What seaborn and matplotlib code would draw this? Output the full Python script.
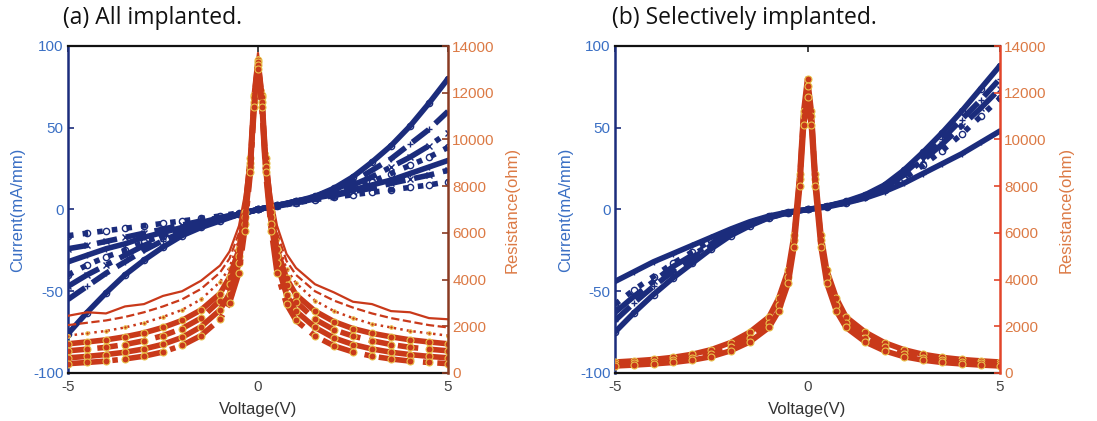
import numpy as np
import pandas as pd
import matplotlib
matplotlib.use("Agg")
import matplotlib.pyplot as plt
import seaborn as sns

# ---------------- data ----------------
V_I = [-5, -4.5, -4, -3.5, -3, -2.5, -2, -1.5, -1, -0.5, 0,
       0.5, 1, 1.5, 2, 2.5, 3, 3.5, 4, 4.5, 5]

# (a) all implanted: current curves (mA/mm)
a_I1 = [-76, -63, -51, -40, -31, -23, -16, -11, -7, -3, 0, 2.5, 5, 8, 13, 20, 29, 39, 51, 65, 80]
a_I2 = [-55, -47, -39, -32, -25, -19, -14, -10, -6, -3, 0, 2.5, 5, 8, 12, 17, 24, 31, 40, 49, 60]
a_I3 = [-47, -40, -34, -28, -22, -17, -13, -9, -6, -3, 0, 2.5, 5, 7.5, 11, 15, 20, 26, 32, 39, 47]
a_I4 = [-40, -34, -29, -25, -20, -16, -12, -8.5, -5.5, -3, 0, 2.5, 5, 7, 10, 13, 17, 22, 27, 32, 38]
a_I5 = [-32, -28, -24, -21, -17, -14, -11, -8, -5, -3, 0, 2.5, 4.5, 7, 9, 12, 15, 18, 22, 26, 30]
a_I6 = [-24, -22, -19.5, -17, -14.5, -12, -9.5, -7, -5, -2.5, 0, 2, 4, 6.5, 8.5, 11, 13, 16, 18.5, 21, 24]
a_I7 = [-16, -14.5, -13, -11.5, -10, -8.5, -7, -5.5, -4, -2, 0, 2, 4, 6, 7.5, 9, 10.5, 12, 13.5, 15, 17]

# (b) selectively implanted: current curves (mA/mm)
b_I1 = [-75, -63, -52, -42, -33, -24, -16, -10, -5, -2, 0, 2, 5, 9, 15, 24, 35, 47, 60, 74, 88]
b_I2 = [-68, -57, -47, -38, -30, -22, -15, -9, -5, -2, 0, 2, 4.5, 8.5, 14, 22, 32, 43, 55, 67, 80]
b_I3 = [-63, -53, -44, -35, -28, -21, -14, -9, -4.5, -2, 0, 2, 4.5, 8, 13, 21, 30, 40, 51, 62, 74]
b_I4 = [-58, -49, -41, -33, -26, -19, -13, -8, -4, -1.5, 0, 1.5, 4, 7.5, 12, 19, 27, 36, 46, 57, 68]
b_I5 = [-44, -38, -32, -27, -22, -17, -12, -7.5, -4, -1.5, 0, 1.5, 4, 7, 11, 16, 22, 28, 34, 41, 48]

V_R = [-5, -4.5, -4, -3.5, -3, -2.5, -2, -1.5, -1, -0.75, -0.5, -0.35, -0.2, -0.1, 0,
       0.1, 0.2, 0.35, 0.5, 0.75, 1, 1.5, 2, 2.5, 3, 3.5, 4, 4.5, 5]

# (a) resistance curves (ohm)
a_R1 = [2450, 2600, 2550, 2850, 2950, 3300, 3500, 3950, 4600, 5200, 6300, 7600, 9800, 12300, 13700,
        12300, 9800, 7600, 6300, 5100, 4500, 3800, 3450, 3050, 2950, 2650, 2600, 2350, 2300]
a_R2 = [2050, 2150, 2250, 2400, 2600, 2850, 3150, 3600, 4300, 4900, 6000, 7400, 9600, 12200, 13600,
        12200, 9600, 7400, 6000, 4800, 4200, 3500, 3100, 2800, 2550, 2350, 2200, 2050, 1950]
a_R3 = [1600, 1700, 1800, 1950, 2150, 2400, 2700, 3150, 3900, 4500, 5700, 7200, 9400, 12100, 13500,
        12100, 9400, 7200, 5700, 4450, 3850, 3100, 2650, 2350, 2100, 1950, 1800, 1700, 1600]
a_R4 = [1250, 1330, 1420, 1550, 1720, 1950, 2250, 2700, 3400, 4100, 5300, 6900, 9200, 11900, 13400,
        11900, 9200, 6900, 5300, 4050, 3350, 2650, 2200, 1900, 1700, 1550, 1420, 1330, 1250]
a_R5 = [950, 1020, 1100, 1220, 1380, 1600, 1900, 2350, 3100, 3800, 5000, 6700, 9000, 11800, 13300,
        11800, 9000, 6700, 5000, 3750, 3050, 2300, 1850, 1580, 1380, 1220, 1100, 1020, 950]
a_R6 = [650, 710, 790, 890, 1030, 1230, 1520, 1980, 2700, 3400, 4700, 6400, 8800, 11600, 13200,
        11600, 8800, 6400, 4700, 3350, 2650, 1950, 1500, 1220, 1030, 890, 790, 710, 650]
a_R7 = [400, 450, 510, 600, 720, 900, 1180, 1600, 2300, 3000, 4300, 6100, 8600, 11400, 13000,
        11400, 8600, 6100, 4300, 2950, 2250, 1580, 1160, 900, 720, 600, 510, 450, 400]

# (b) resistance curves (ohm)
b_R1 = [470, 520, 580, 670, 800, 1000, 1300, 1750, 2400, 3200, 4400, 5900, 8500, 11200, 12600,
        11200, 8500, 5900, 4400, 3200, 2400, 1750, 1300, 1000, 800, 670, 580, 520, 470]
b_R2 = [380, 420, 470, 540, 650, 820, 1100, 1500, 2150, 2900, 4100, 5700, 8300, 11000, 12300,
        11000, 8300, 5700, 4100, 2900, 2150, 1500, 1100, 820, 650, 540, 470, 420, 380]
b_R3 = [300, 340, 390, 450, 550, 700, 950, 1330, 1950, 2650, 3850, 5400, 8000, 10600, 11800,
        10600, 8000, 5400, 3850, 2650, 1950, 1330, 950, 700, 550, 450, 390, 340, 300]

I_TICKS = [-100, -50, 0, 50, 100]
R_TICKS = [0, 2000, 4000, 6000, 8000, 10000, 12000, 14000]
X_TICKS = [-5, 0, 5]
TITLES = ["(a) All implanted.", "(b) Selectively implanted."]

# ---------------- style ----------------
sns.set_theme(style="white")
plt.rcParams["font.family"] = ["Liberation Sans", "DejaVu Sans"]
plt.rcParams["axes.unicode_minus"] = False

BLUE = "#1b2c7c"
BLUE_TXT = "#3a6fc4"
RED = "#c9391a"
RED_TXT = "#dc7a45"
RED_SPINE = "#e2452a"

fig = plt.figure(figsize=(10.97, 4.21), dpi=100)
W, H = 1097, 421

panels = [
    dict(box=(68, 46, 448, 373), title=TITLES[0], title_x=63,
         I=[a_I1, a_I2, a_I3, a_I4, a_I5, a_I6, a_I7],
         R=[a_R1, a_R2, a_R3, a_R4, a_R5, a_R6, a_R7],
         ylab_x=18, rlab_x=512, rspine="#8a3b22"),
    dict(box=(615, 46, 1000, 373), title=TITLES[1], title_x=612,
         I=[b_I1, b_I2, b_I3, b_I4, b_I5],
         R=[b_R1, b_R2, b_R3],
         ylab_x=566, rlab_x=1066, rspine=RED_SPINE),
]

i_styles = [("-", "o"), ("--", "+"), ("-.", "x"), (":", "o"), ("-", "+"), ("--", "x"), (":", "o")]
r_styles_a = [("-", None, 1.6), ("--", None, 1.6), (":", ".", 1.8), ("-", "o", 4.0),
              ("--", "o", 4.0), ("-", "o", 4.0), ("-.", "o", 4.0)]
r_styles_b = [("-", "o", 4.0), ("--", "o", 4.0), ("-", "o", 4.0)]

for pi, p in enumerate(panels):
    x0, y0, x1, y1 = p["box"]
    ax = fig.add_axes([x0 / W, 1 - y1 / H, (x1 - x0) / W, (y1 - y0) / H])
    ax.set_facecolor("white")
    for k, I in enumerate(p["I"]):
        ls, mk = i_styles[k % len(i_styles)]
        df = pd.DataFrame({"V": V_I, "I": I})
        sns.lineplot(data=df, x="V", y="I", ax=ax, color=BLUE, linestyle=ls,
                     linewidth=4.0, marker=mk, markersize=4.5, markeredgewidth=1.0,
                     markeredgecolor=BLUE, markerfacecolor="none" if mk == "o" else BLUE,
                     estimator=None, sort=False)
    ax.set_xlim(-5, 5)
    ax.set_ylim(-100, 100)
    ax.set_xticks(X_TICKS)
    ax.set_yticks(I_TICKS)
    ax.set_xlabel("Voltage(V)", fontsize=12, color="#333333", labelpad=6)
    ax.set_ylabel("")
    ax.tick_params(axis="x", direction="in", top=True, length=4, width=1.2,
                   labelsize=11, colors="#222222", pad=5, labelcolor="#444444")
    ax.tick_params(axis="y", direction="in", length=4, width=1.2, labelsize=11,
                   colors=BLUE, labelcolor=BLUE_TXT, pad=3)
    for s in ["top", "bottom"]:
        ax.spines[s].set_color("#111111")
        ax.spines[s].set_linewidth(1.6)
    ax.spines["left"].set_color(BLUE)
    ax.spines["left"].set_linewidth(1.8)
    ax.spines["right"].set_visible(False)
    fig.text(p["ylab_x"] / W, 1 - (y0 + y1) / 2 / H, "Current(mA/mm)", rotation=90,
             color=BLUE_TXT, fontsize=12, ha="center", va="center")

    ax2 = ax.twinx()
    r_styles = r_styles_a if pi == 0 else r_styles_b
    for k, R in enumerate(p["R"]):
        ls, mk, lw = r_styles[k % len(r_styles)]
        df = pd.DataFrame({"V": V_R, "R": R})
        sns.lineplot(data=df, x="V", y="R", ax=ax2, color=RED, linestyle=ls,
                     linewidth=lw, marker=mk, markersize=5,
                     markeredgewidth=0.8, markeredgecolor="#e9c24a" if mk else RED,
                     markerfacecolor=RED, estimator=None, sort=False)
    ax2.set_ylim(0, 14000)
    ax2.set_yticks(R_TICKS)
    ax2.set_yticklabels([str(t) for t in R_TICKS])
    ax2.set_ylabel("")
    ax2.grid(False)
    ax2.tick_params(axis="y", direction="in", length=4, width=1.2, labelsize=11,
                    colors=p["rspine"], labelcolor=RED_TXT, pad=3)
    for s in ["left", "top", "bottom"]:
        ax2.spines[s].set_visible(False)
    ax2.spines["right"].set_color(p["rspine"])
    ax2.spines["right"].set_linewidth(1.8)
    fig.text(p["rlab_x"] / W, 1 - (y0 + y1) / 2 / H, "Resistance(ohm)", rotation=90,
             color=RED_TXT, fontsize=12, ha="center", va="center")

    fig.text(p["title_x"] / W, 1 - 18 / H, p["title"], fontsize=16.5,
             family=["Open Sans", "DejaVu Sans"], ha="left", va="center", color="#111111")

fig.savefig("out.png", dpi=100, facecolor="white")
